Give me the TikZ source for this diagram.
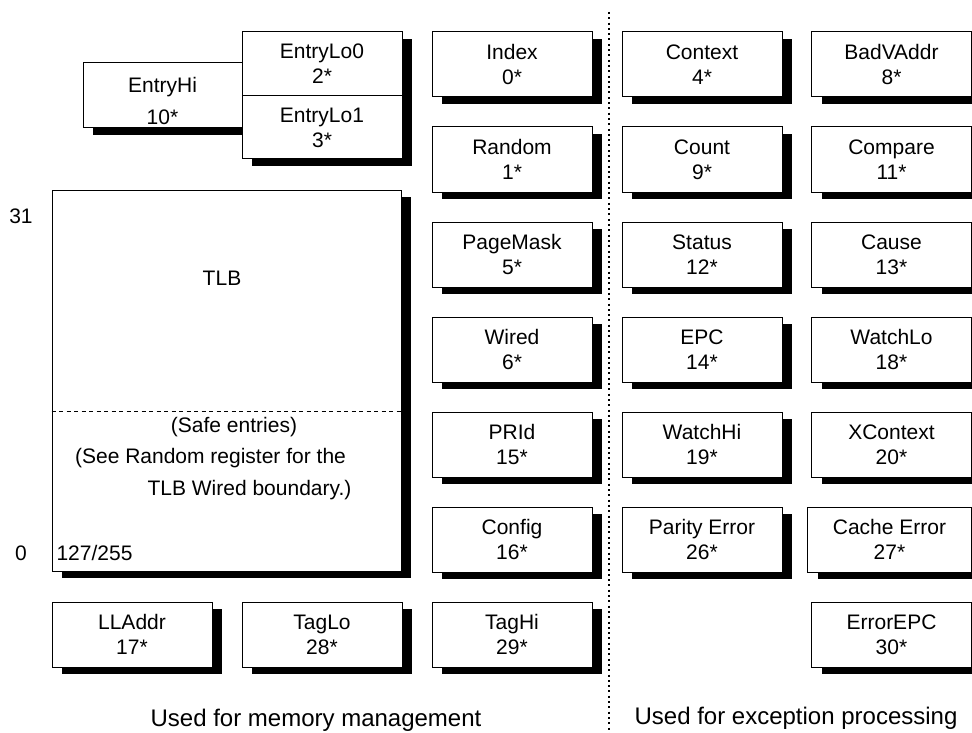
\documentclass[tikz,border=0pt]{standalone}
\usepackage{fontspec}
\setmainfont{Liberation Sans}
\usetikzlibrary{shadows}
\tikzset{
  reg/.style={draw,fill=white,line width=1pt,minimum width=160pt,minimum height=65pt,
    inner sep=0pt,align=center,font=\fontsize{21}{25}\selectfont,
    drop shadow={shadow xshift=10pt,shadow yshift=-7pt,opacity=1,fill=black}},
  txt/.style={inner sep=0pt,align=center,font=\fontsize{21}{25}\selectfont},
  foot/.style={inner sep=0pt,font=\fontsize{24}{28}\selectfont}
}
\begin{document}
\begin{tikzpicture}[x=1pt,y=-1pt,line cap=butt,line join=miter]
  \useasboundingbox (0,0) rectangle (972,733);
  \clip (0,0) rectangle (972,733);
  % divider
  \coordinate (divtop) at (609,12); \coordinate (divbot) at (609,733);
  \draw[line width=2pt,dash pattern=on 2pt off 3.3pt] (divtop) -- (divbot);
  % entry registers
  \node[reg,minimum width=159pt] (entryhi) at (162.5,95.5) {};
  \node[txt,font=\fontsize{21}{32}\selectfont] (entryhitxt) at (162.5,101) {EntryHi\\10*};
  \node[reg,minimum height=64pt] (entrylo0) at (322,64) {EntryLo0\\2*};
  \node[reg,minimum height=63pt] (entrylo1) at (322,127.5) {EntryLo1\\3*};
  % TLB
  \node[reg,minimum width=349pt,minimum height=381pt] (tlb) at (226.5,380.5) {};
  \draw[line width=1pt,dash pattern=on 4pt off 3.5pt] (tlb.west |- 0,411.5) -- (tlb.east |- 0,411.5);
  \node[txt] (tlbname) at (222,278) {TLB};
  \node[txt] (top) at (21,216) {31};
  \node[txt] (bot) at (21,553) {0};
  \node[txt] (size) at (94.5,553) {127/255};
  \node[txt] (safe) at (234,427) {(Safe entries)};
  \node[txt] (see1) at (210.5,458) {(See Random register for the};
  \node[txt] (see2) at (249.5,490) {TLB Wired boundary.)};
  % memory management
  \node[reg] (lladdr) at (132,634.5) {LLAddr\\17*};
  \node[reg] (taglo) at (322,634.5) {TagLo\\28*};
  \node[reg] (index) at (512,64.5) {Index\\0*};
  \node[reg] (random) at (512,159.5) {Random\\1*};
  \node[reg] (pagemask) at (512,254.5) {PageMask\\5*};
  \node[reg] (wired) at (512,349.5) {Wired\\6*};
  \node[reg] (prid) at (512,444.5) {PRId\\15*};
  \node[reg] (config) at (512,539.5) {Config\\16*};
  \node[reg] (taghi) at (512,634.5) {TagHi\\29*};
  % exception processing
  \node[reg] (context) at (702,64.5) {Context\\4*};
  \node[reg] (count) at (702,159.5) {Count\\9*};
  \node[reg] (status) at (702,254.5) {Status\\12*};
  \node[reg] (epc) at (702,349.5) {EPC\\14*};
  \node[reg] (watchhi) at (702,444.5) {WatchHi\\19*};
  \node[reg] (parity) at (702,539.5) {Parity Error\\26*};
  \node[reg] (badvaddr) at (891.5,64.5) {BadVAddr\\8*};
  \node[reg] (compare) at (891.5,159.5) {Compare\\11*};
  \node[reg] (cause) at (891.5,254.5) {Cause\\13*};
  \node[reg] (watchlo) at (891.5,349.5) {WatchLo\\18*};
  \node[reg] (xcontext) at (891.5,444.5) {XContext\\20*};
  \node[reg,minimum width=164pt] (cacheerr) at (889.5,539.5) {Cache Error\\27*};
  \node[reg] (errorepc) at (891.5,634.5) {ErrorEPC\\30*};
  % captions
  \node[foot] (memcap) at (316,720) {Used for memory management};
  \node[foot] (exccap) at (796,718) {Used for exception processing};
\end{tikzpicture}
\end{document}
